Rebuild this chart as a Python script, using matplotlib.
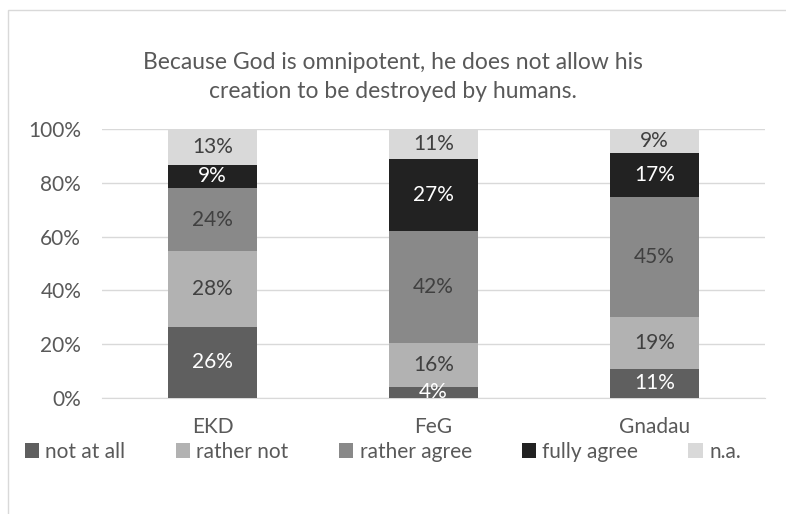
import matplotlib.pyplot as plt
import numpy as np
from matplotlib.patches import Rectangle

# Data (percent shares per group)
groups = ['EKD', 'FeG', 'Gnadau']
series = ['not at all', 'rather not', 'rather agree', 'fully agree', 'n.a.']
not_at_all = [26.4, 4.2, 10.8]
rather_not = [28.1, 16.4, 19.2]
rather_agree = [23.6, 41.6, 44.6]
fully_agree = [8.6, 26.6, 16.6]
n_a = [13.3, 11.2, 8.8]

colors = ['#5f5f5f', '#b2b2b2', '#898989', '#222222', '#d9d9d9']
text_colors = ['white', '#404040', '#404040', 'white', '#404040']

plt.rcParams['font.family'] = ['Lato', 'DejaVu Sans']

fig = plt.figure(figsize=(7.86, 5.14), dpi=100)
ax = fig.add_axes([102/786, 1 - 398/514, 663/786, 269/514])

# light chart border like the spreadsheet chart area
fig.patches.append(Rectangle((8/786, -0.1), 1.0, 1 - 10/514 + 0.1, transform=fig.transFigure,
                             fill=False, edgecolor='#d9d9d9', linewidth=1))

x = np.arange(len(groups))
bottom = np.zeros(len(groups))
for vals, name, c, tc in zip([not_at_all, rather_not, rather_agree, fully_agree, n_a],
                             series, colors, text_colors):
    vals = np.array(vals)
    ax.bar(x, vals, 0.4, bottom=bottom, color=c, label=name, zorder=3)
    for xi, v, b in zip(x, vals, bottom):
        ax.text(xi, b + v / 2, f'{round(v):d}%', ha='center', va='center',
                color=tc, fontsize=15, zorder=4)
    bottom = bottom + vals

ax.set_xlim(-0.5, 2.5)
ax.set_ylim(0, 100)
ax.set_yticks(range(0, 101, 20))
ax.set_yticklabels([f'{t}%' for t in range(0, 101, 20)])
ax.set_xticks(x)
ax.set_xticklabels(groups)
ax.grid(axis='y', color='#d9d9d9', linewidth=1, zorder=0)
for s in ['top', 'right', 'left']:
    ax.spines[s].set_visible(False)
ax.spines['bottom'].set_color('#d9d9d9')
ax.tick_params(length=0, labelsize=15, colors='#595959', pad=15)
ax.tick_params(axis='x', pad=14)

fig.text(0.5, 1 - 77/514, 'Because God is omnipotent, he does not allow his\ncreation to be destroyed by humans.',
         ha='center', va='center', fontsize=16.5, color='#595959', linespacing=1.5)

fig.legend(loc='center', bbox_to_anchor=(0.487, 1 - 452/514), ncol=5, frameon=False,
           fontsize=15, handlelength=0.7, handleheight=0.7, handletextpad=0.3,
           columnspacing=2.4, labelcolor='#595959')

fig.savefig('out.png', dpi=100)
